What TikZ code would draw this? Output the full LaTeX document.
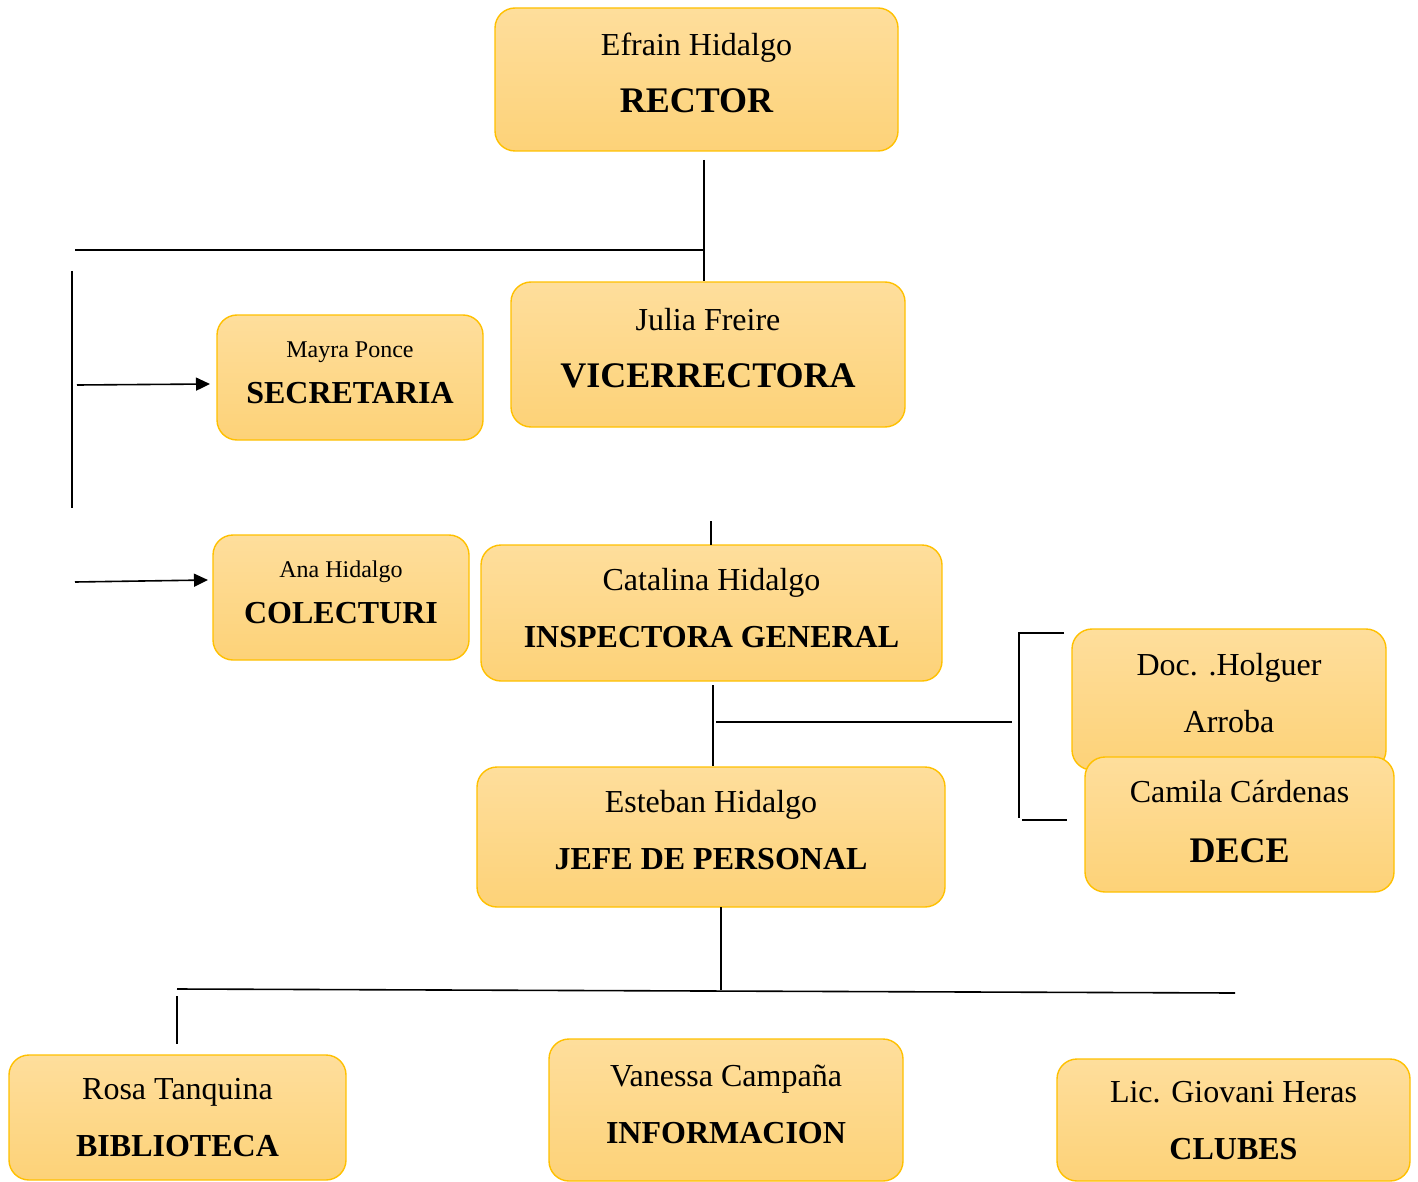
\documentclass[tikz,border=0pt]{standalone}
\usepackage{fontspec}
\setmainfont{Liberation Serif}
\usetikzlibrary{arrows.meta}

\definecolor{cajaarriba}{RGB}{254,222,156}
\definecolor{cajaabajo}{RGB}{253,210,120}
\definecolor{cajaborde}{RGB}{255,192,0}

\tikzset{
  cargo/.style={draw=cajaborde, line width=0.7pt, rounded corners=10pt,
    top color=cajaarriba, bottom color=cajaabajo, align=center,
    inner sep=0pt, text depth=7pt, font=\fontsize{16}{28.5}\selectfont},
  cargochico/.style={cargo, font=\fontsize{12}{23}\selectfont},
  linea/.style={line width=0.8pt},
  flecha/.style={linea, -{Triangle[length=7pt,width=6.5pt]}}
}
\newcommand{\puesto}[1]{{\fontsize{16}{28.5}\selectfont\bfseries #1}}
\newcommand{\puestog}[1]{{\fontsize{18}{28.5}\selectfont\bfseries #1}}

\begin{document}
\begin{tikzpicture}[x=0.5pt, y=-0.5pt]
  \useasboundingbox (0,0) rectangle (1418,1182);

  % cajas
  \node[cargo, minimum width=201.5pt, minimum height=71.5pt] (rector) at (696.5,79.5)
    {Efrain Hidalgo\\ \puestog{RECTOR}};
  \node[cargo, minimum width=197pt, minimum height=72.5pt] (vice) at (708,354.5)
    {Julia Freire\\ \puestog{VICERRECTORA}};
  \node[cargochico, minimum width=133pt, minimum height=62.5pt, text depth=5pt] (secretaria) at (350,377.5)
    {Mayra Ponce\\ \puesto{SECRETARIA}};
  \node[cargochico, minimum width=128pt, minimum height=62.5pt, text depth=5pt] (colecturi) at (341,597.5)
    {Ana Hidalgo\\ \puesto{COLECTURI}};
  \node[cargo, minimum width=230.5pt, minimum height=68pt, text depth=5pt] (inspectora) at (711.5,613)
    {Catalina Hidalgo\\ \puesto{INSPECTORA GENERAL}};
  \node[cargo, minimum width=157pt, minimum height=70.5pt] (holguer) at (1229,699.5)
    {Doc. .Holguer\\ Arroba};
  \node[cargo, minimum width=154.5pt, minimum height=67.5pt, text depth=3pt,
    font=\fontsize{16}{30}\selectfont] (dece) at (1239.5,824.5)
    {Camila Cárdenas\\ \fontsize{18}{30}\selectfont\bfseries DECE};
  \node[cargo, minimum width=234pt, minimum height=70pt] (jefe) at (711,837)
    {Esteban Hidalgo\\ \puesto{JEFE DE PERSONAL}};
  \node[cargo, minimum width=168.5pt, minimum height=62.5pt, text depth=0pt] (biblioteca) at (177.5,1117.5)
    {Rosa Tanquina\\ \puesto{BIBLIOTECA}};
  \node[cargo, minimum width=177pt, minimum height=71pt, text depth=6pt] (informacion) at (726,1110)
    {Vanessa Campaña\\ \puesto{INFORMACION}};
  \node[cargo, minimum width=176.5pt, minimum height=61pt, text depth=-1pt] (clubes) at (1233.5,1120)
    {Lic. Giovani Heras\\ \puesto{CLUBES}};

  % puntos de las lineas
  \coordinate (r1) at (704,160);
  \coordinate (r2) at (704,281);
  \coordinate (h1) at (75,250);
  \coordinate (h2) at (704,250);
  \coordinate (v1) at (72,271);
  \coordinate (v2) at (72,508);
  \coordinate (s1) at (77,385);
  \coordinate (s2) at (210,384);
  \coordinate (c1) at (75,582);
  \coordinate (c2) at (208,580);
  \coordinate (i1) at (711,521);
  \coordinate (i2) at (711,545);
  \coordinate (i3) at (713,685);
  \coordinate (i4) at (713,766);
  \coordinate (d1) at (716,722);
  \coordinate (d2) at (1012,722);
  \coordinate (b1) at (1064,633);
  \coordinate (b2) at (1019,633);
  \coordinate (b3) at (1019,818);
  \coordinate (b4) at (1022,820);
  \coordinate (b5) at (1067,820);
  \coordinate (j1) at (721,907);
  \coordinate (j2) at (721,990);
  \coordinate (k1) at (177,989);
  \coordinate (k2) at (1235,993);
  \coordinate (k3) at (177,996);
  \coordinate (k4) at (177,1044);

  % conectores
  \draw[linea] (r1) -- (r2);
  \draw[linea] (h1) -- (h2);
  \draw[linea] (v1) -- (v2);
  \draw[flecha] (s1) -- (s2);
  \draw[flecha] (c1) -- (c2);
  \draw[linea] (i1) -- (i2);
  \draw[linea] (i3) -- (i4);
  \draw[linea] (d1) -- (d2);
  \draw[linea] (b1) -- (b2) -- (b3);
  \draw[linea] (b4) -- (b5);
  \draw[linea] (j1) -- (j2);
  \draw[linea] (k1) -- (k2);
  \draw[linea] (k3) -- (k4);
\end{tikzpicture}
\end{document}
